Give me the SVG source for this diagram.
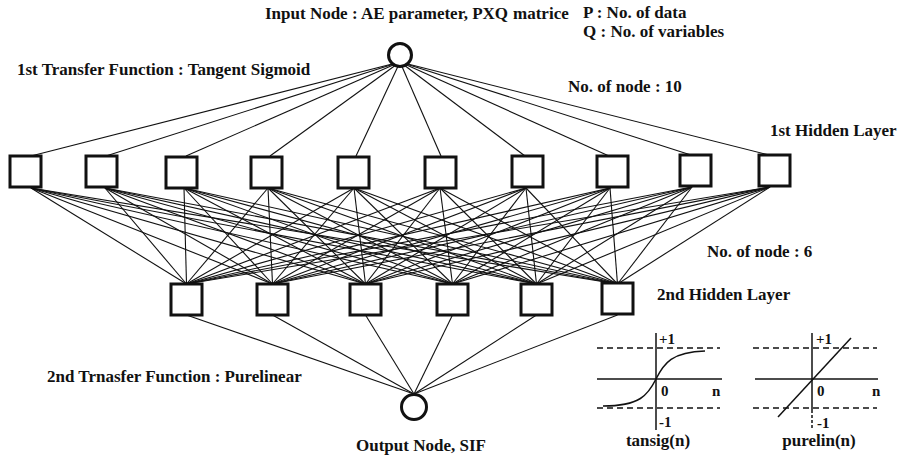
<svg xmlns="http://www.w3.org/2000/svg" width="900" height="460" viewBox="0 0 900 460">
<style>
.t{font-family:"Liberation Serif","Times New Roman",serif;font-weight:bold;font-size:17px;fill:#111}
.s{font-family:"Liberation Serif","Times New Roman",serif;font-weight:bold;font-size:15px;fill:#111}
.box{fill:#fff;stroke:#111;stroke-width:3}
.circ{fill:#fff;stroke:#111;stroke-width:3}
.c line{stroke:#111;stroke-width:1.1}
.ax{stroke:#111;stroke-width:1.5;fill:none}
.da{stroke:#111;stroke-width:1.5;stroke-dasharray:6 4;fill:none}
</style>
<rect width="900" height="460" fill="#fff"/>
<g id="connectors" class="c">
<line x1="400" y1="62" x2="31" y2="156"/>
<line x1="400" y1="62" x2="106" y2="156"/>
<line x1="400" y1="62" x2="186" y2="156"/>
<line x1="400" y1="62" x2="270" y2="156"/>
<line x1="400" y1="62" x2="356" y2="156"/>
<line x1="400" y1="62" x2="441" y2="156"/>
<line x1="400" y1="62" x2="525" y2="156"/>
<line x1="400" y1="62" x2="609" y2="156"/>
<line x1="400" y1="62" x2="691" y2="155"/>
<line x1="400" y1="62" x2="769" y2="155"/>
<line x1="31" y1="188" x2="186.5" y2="284"/><line x1="31" y1="188" x2="272.5" y2="284"/><line x1="31" y1="188" x2="365.5" y2="284"/><line x1="31" y1="188" x2="452.5" y2="284"/><line x1="31" y1="188" x2="536.5" y2="284"/><line x1="31" y1="188" x2="617.5" y2="284"/>
<line x1="105" y1="188" x2="186.5" y2="284"/><line x1="105" y1="188" x2="272.5" y2="284"/><line x1="105" y1="188" x2="365.5" y2="284"/><line x1="105" y1="188" x2="452.5" y2="284"/><line x1="105" y1="188" x2="536.5" y2="284"/><line x1="105" y1="188" x2="617.5" y2="284"/>
<line x1="184" y1="188" x2="186.5" y2="284"/><line x1="184" y1="188" x2="272.5" y2="284"/><line x1="184" y1="188" x2="365.5" y2="284"/><line x1="184" y1="188" x2="452.5" y2="284"/><line x1="184" y1="188" x2="536.5" y2="284"/><line x1="184" y1="188" x2="617.5" y2="284"/>
<line x1="268" y1="188" x2="186.5" y2="284"/><line x1="268" y1="188" x2="272.5" y2="284"/><line x1="268" y1="188" x2="365.5" y2="284"/><line x1="268" y1="188" x2="452.5" y2="284"/><line x1="268" y1="188" x2="536.5" y2="284"/><line x1="268" y1="188" x2="617.5" y2="284"/>
<line x1="354" y1="188" x2="186.5" y2="284"/><line x1="354" y1="188" x2="272.5" y2="284"/><line x1="354" y1="188" x2="365.5" y2="284"/><line x1="354" y1="188" x2="452.5" y2="284"/><line x1="354" y1="188" x2="536.5" y2="284"/><line x1="354" y1="188" x2="617.5" y2="284"/>
<line x1="440" y1="188" x2="186.5" y2="284"/><line x1="440" y1="188" x2="272.5" y2="284"/><line x1="440" y1="188" x2="365.5" y2="284"/><line x1="440" y1="188" x2="452.5" y2="284"/><line x1="440" y1="188" x2="536.5" y2="284"/><line x1="440" y1="188" x2="617.5" y2="284"/>
<line x1="526" y1="188" x2="186.5" y2="284"/><line x1="526" y1="188" x2="272.5" y2="284"/><line x1="526" y1="188" x2="365.5" y2="284"/><line x1="526" y1="188" x2="452.5" y2="284"/><line x1="526" y1="188" x2="536.5" y2="284"/><line x1="526" y1="188" x2="617.5" y2="284"/>
<line x1="610" y1="188" x2="186.5" y2="284"/><line x1="610" y1="188" x2="272.5" y2="284"/><line x1="610" y1="188" x2="365.5" y2="284"/><line x1="610" y1="188" x2="452.5" y2="284"/><line x1="610" y1="188" x2="536.5" y2="284"/><line x1="610" y1="188" x2="617.5" y2="284"/>
<line x1="692" y1="187" x2="186.5" y2="284"/><line x1="692" y1="187" x2="272.5" y2="284"/><line x1="692" y1="187" x2="365.5" y2="284"/><line x1="692" y1="187" x2="452.5" y2="284"/><line x1="692" y1="187" x2="536.5" y2="284"/><line x1="692" y1="187" x2="617.5" y2="284"/>
<line x1="770" y1="187" x2="186.5" y2="284"/><line x1="770" y1="187" x2="272.5" y2="284"/><line x1="770" y1="187" x2="365.5" y2="284"/><line x1="770" y1="187" x2="452.5" y2="284"/><line x1="770" y1="187" x2="536.5" y2="284"/><line x1="770" y1="187" x2="617.5" y2="284"/>
<line x1="186.5" y1="315" x2="414" y2="394"/>
<line x1="272.5" y1="315" x2="414" y2="394"/>
<line x1="365.5" y1="315" x2="414" y2="394"/>
<line x1="452.5" y1="315" x2="414" y2="394"/>
<line x1="536.5" y1="315" x2="414" y2="394"/>
<line x1="617.5" y1="315" x2="414" y2="394"/>
</g>
<g id="input"><circle class="circ" cx="400" cy="55" r="11.5"/></g>
<g id="h1_1"><rect class="box" x="10" y="156" width="31" height="31"/></g>
<g id="h1_2"><rect class="box" x="86" y="156" width="31" height="31"/></g>
<g id="h1_3"><rect class="box" x="166" y="157" width="31" height="31"/></g>
<g id="h1_4"><rect class="box" x="251" y="157" width="31" height="31"/></g>
<g id="h1_5"><rect class="box" x="338" y="157" width="31" height="31"/></g>
<g id="h1_6"><rect class="box" x="425" y="157" width="31" height="31"/></g>
<g id="h1_7"><rect class="box" x="512" y="156" width="31" height="31"/></g>
<g id="h1_8"><rect class="box" x="597" y="156" width="31" height="31"/></g>
<g id="h1_9"><rect class="box" x="680" y="155" width="31" height="31"/></g>
<g id="h1_10"><rect class="box" x="759" y="155" width="31" height="31"/></g>
<g id="h2_1"><rect class="box" x="171" y="284" width="31" height="31"/></g>
<g id="h2_2"><rect class="box" x="257" y="284" width="31" height="31"/></g>
<g id="h2_3"><rect class="box" x="350" y="284" width="31" height="31"/></g>
<g id="h2_4"><rect class="box" x="437" y="284" width="31" height="31"/></g>
<g id="h2_5"><rect class="box" x="521" y="284" width="31" height="31"/></g>
<g id="h2_6"><rect class="box" x="602" y="283" width="31" height="31"/></g>
<g id="output"><circle class="circ" cx="414" cy="407" r="12.5"/></g>
<g id="labels">
<text class="t" x="265" y="19">Input Node : AE parameter, PXQ<tspan dx="5">matrice</tspan></text>
<text class="t" x="583" y="18">P : No. of data</text>
<text class="t" x="583" y="37">Q : No. of variables</text>
<text class="t" x="17" y="75">1st Transfer Function : Tangent Sigmoid</text>
<text class="t" x="568" y="92">No. of node : 10</text>
<text class="t" x="770" y="136">1st Hidden Layer</text>
<text class="t" x="707" y="257">No. of node : 6</text>
<text class="t" x="657" y="300">2nd Hidden Layer</text>
<text class="t" x="47" y="382">2nd Trnasfer Function : Purelinear</text>
<text class="t" x="356" y="451">Output Node, SIF</text>
</g>
<g id="tansig">
<line class="da" x1="597" y1="348" x2="720" y2="348"/>
<line class="ax" x1="597" y1="379" x2="722" y2="379"/>
<line class="da" x1="597" y1="408" x2="720" y2="408"/>
<line class="ax" x1="656" y1="333" x2="656" y2="430"/>
<path class="ax" d="M603,406 C640,406 648,395 656,379 C664,363 672,352 705,351"/>
<text class="s" x="659" y="344">+1</text>
<text class="s" x="661" y="396">0</text>
<text class="s" x="712" y="396">n</text>
<text class="s" x="659" y="427">-1</text>
<text class="t" x="658" y="446" text-anchor="middle">tansig(n)</text>
</g>
<g id="purelin">
<line class="da" x1="753" y1="348" x2="877" y2="348"/>
<line class="ax" x1="755" y1="379" x2="878" y2="379"/>
<line class="da" x1="753" y1="408" x2="877" y2="408"/>
<line class="ax" x1="812" y1="333" x2="812" y2="410"/>
<line class="da" x1="812" y1="410" x2="812" y2="430" style="stroke-dasharray:3 2"/>
<line class="ax" x1="778" y1="417" x2="851" y2="338"/>
<text class="s" x="816" y="344">+1</text>
<text class="s" x="817" y="396">0</text>
<text class="s" x="872" y="396">n</text>
<text class="s" x="817" y="428">-1</text>
<text class="t" x="819" y="446" text-anchor="middle">purelin(n)</text>
</g>
</svg>
